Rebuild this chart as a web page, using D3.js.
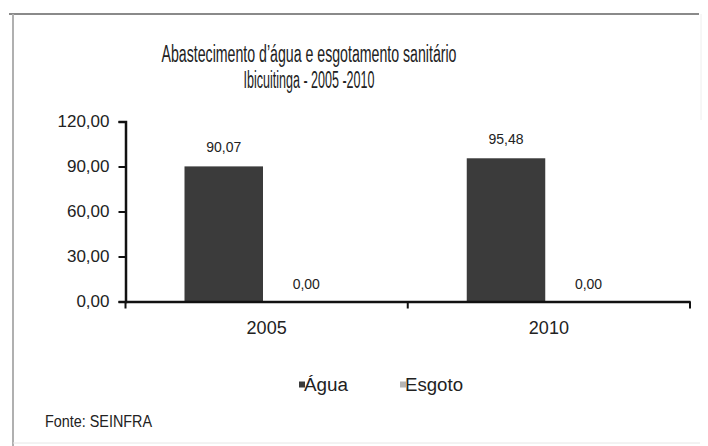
<!DOCTYPE html>
<html>
<head>
<meta charset="utf-8">
<script src="https://cdn.jsdelivr.net/npm/d3@7"></script>
<style>
  body { margin: 0; background: #fff; }
  text { font-family: "Liberation Sans", Arial, sans-serif; fill: #222; }
  .narrow { font-family: "Liberation Sans Narrow", "Arial Narrow", "Liberation Sans", sans-serif; }
</style>
</head>
<body>
<div id="chart"></div>
<script>
// chart data
const years = ["2005", "2010"];
const seriesNames = ["Água", "Esgoto"];
const agua = [90.07, 95.48];
const esgoto = [0.00, 0.00];
const yTicks = [0, 30, 60, 90, 120];
const titleLines = ["Abastecimento d’água e esgotamento sanitário", "Ibicuitinga - 2005 -2010"];
const source = "Fonte: SEINFRA";

const width = 708;
const height = 446;

// plot area
const margin = { left: 125.5, right: 18, top: 121.5, bottom: 144.5 };

const colours = d3.scaleOrdinal()
  .domain(seriesNames)
  .range(["#3b3b3b", "#b4b4b4"]);

// brazilian number format, comma as decimal
const ptBR = d3.formatLocale({ decimal: ",", thousands: ".", grouping: [3], currency: ["R$", ""] });
const fmt = ptBR.format(".2f");

const rows = years.map((y, i) => ({ year: y, values: [
  { key: seriesNames[0], value: agua[i] },
  { key: seriesNames[1], value: esgoto[i] }
]}));

const svg = d3.select("#chart")
  .append("svg")
  .attr("width", width)
  .attr("height", height);

// frame of the scanned figure
svg.append("line").attr("x1", 9).attr("x2", 699).attr("y1", 14).attr("y2", 14)
  .attr("stroke", "#8a8a8a").attr("stroke-width", 2);
svg.append("line").attr("x1", 13).attr("x2", 13).attr("y1", 14).attr("y2", 446)
  .attr("stroke", "#b0b0b0").attr("stroke-width", 2);
svg.append("line").attr("x1", 701).attr("x2", 701).attr("y1", 14).attr("y2", 120)
  .attr("stroke", "#eeeeee").attr("stroke-width", 1);
svg.append("line").attr("x1", 13).attr("x2", 700).attr("y1", 443).attr("y2", 443)
  .attr("stroke", "#e6e6e6").attr("stroke-width", 1);

// title
svg.selectAll(".title")
  .data(titleLines)
  .enter()
  .append("text")
  .attr("class", "title narrow")
  .attr("x", 309)
  .attr("y", (d, i) => 62 + i * 26)
  .attr("text-anchor", "middle")
  .attr("font-size", 23)
  .attr("fill", "#1a1a1a")
  .attr("textLength", (d, i) => i === 0 ? 295 : 131)
  .attr("lengthAdjust", "spacingAndGlyphs")
  .text(d => d);

// scales
const x0 = d3.scaleBand()
  .domain(years)
  .range([margin.left, width - margin.right])
  .padding(0);

const x1 = d3.scaleBand()
  .domain(seriesNames)
  .range([59, 59 + 157])
  .padding(0);

const y = d3.scaleLinear()
  .domain([0, 120])
  .range([height - margin.bottom, margin.top]);

// bars
const groups = svg.selectAll(".group")
  .data(rows)
  .enter()
  .append("g")
  .attr("class", "group")
  .attr("transform", d => `translate(${x0(d.year)},0)`);

groups.selectAll("rect")
  .data(d => d.values)
  .enter()
  .append("rect")
  .attr("x", d => x1(d.key))
  .attr("y", d => y(d.value))
  .attr("width", x1.bandwidth())
  .attr("height", d => y(0) - y(d.value))
  .attr("fill", d => colours(d.key));

// value labels
groups.selectAll(".val")
  .data(d => d.values)
  .enter()
  .append("text")
  .attr("class", "val")
  .attr("x", d => x1(d.key) + x1.bandwidth() / 2 + (d.value === 0 ? 4 : 0))
  .attr("y", d => y(d.value) - (d.value === 0 ? 13 : 14))
  .attr("text-anchor", "middle")
  .attr("font-size", 14)
  .text(d => fmt(d.value));

// y axis
const yAxis = svg.append("g")
  .attr("transform", `translate(${margin.left},0)`)
  .call(d3.axisLeft(y).tickValues(yTicks).tickFormat(fmt).tickSize(7).tickPadding(9));
yAxis.select(".domain").attr("stroke", "#111").attr("stroke-width", 2.5);
yAxis.selectAll(".tick line").attr("stroke", "#111").attr("stroke-width", 2);
yAxis.selectAll(".tick text")
  .attr("font-family", "'Liberation Sans', Arial, sans-serif")
  .attr("font-size", 17)
  .attr("fill", "#222");

// x axis, ticks sit between categories
const xAxis = svg.append("g")
  .attr("transform", `translate(0,${y(0)})`)
  .call(d3.axisBottom(x0).tickSize(0).tickPadding(20));
xAxis.select(".domain").attr("stroke", "#111").attr("stroke-width", 2.5);
xAxis.selectAll(".tick text")
  .attr("font-family", "'Liberation Sans', Arial, sans-serif")
  .attr("font-size", 18)
  .attr("fill", "#222");

const boundaries = [x0.range()[0]].concat(years.map(d => x0(d) + x0.bandwidth()));
xAxis.selectAll(".bound")
  .data(boundaries)
  .enter()
  .append("line")
  .attr("class", "bound")
  .attr("x1", d => d).attr("x2", d => d)
  .attr("y1", 0).attr("y2", 7)
  .attr("stroke", "#111")
  .attr("stroke-width", 2);

// legend
const legendX = [299, 400];
const legend = svg.selectAll(".legend")
  .data(seriesNames)
  .enter()
  .append("g")
  .attr("class", "legend")
  .attr("transform", (d, i) => `translate(${legendX[i]},385)`);

legend.append("rect")
  .attr("x", 0).attr("y", -3.5)
  .attr("width", 6).attr("height", 6)
  .attr("fill", d => colours(d));

legend.append("text")
  .attr("class", "narrow")
  .attr("x", 5)
  .attr("y", 6)
  .attr("font-size", 18)
  .attr("textLength", (d, i) => i === 0 ? 44 : 58)
  .attr("lengthAdjust", "spacingAndGlyphs")
  .text(d => d);

// source note
svg.append("text")
  .attr("class", "narrow")
  .attr("x", 45)
  .attr("y", 427)
  .attr("font-size", 16)
  .attr("textLength", 107)
  .attr("lengthAdjust", "spacingAndGlyphs")
  .text(source);
</script>
</body>
</html>
